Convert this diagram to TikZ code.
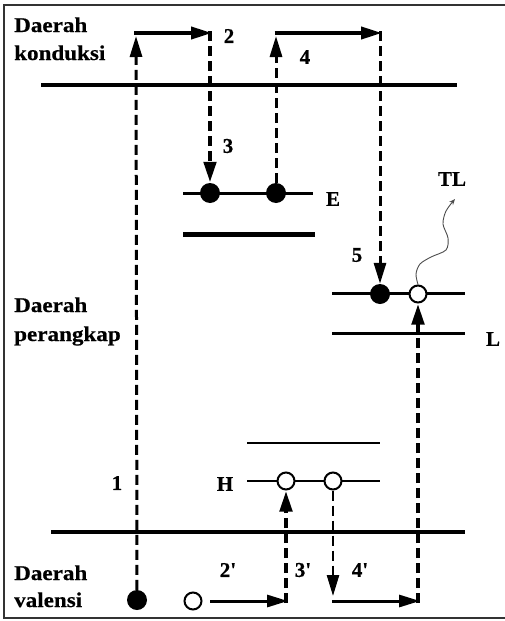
\documentclass[tikz,border=0pt]{standalone}
\usepackage{fontspec}
\setmainfont{Liberation Serif}
\newfontfamily\regfont[FakeStretch=1.1,FakeBold=0.6]{Liberation Serif}
\newfontfamily\lblfont[FakeBold=0.6]{Liberation Serif}
\usetikzlibrary{arrows.meta}
\begin{document}
\begin{tikzpicture}[x=1pt,y=-1pt,
  region/.style={font=\regfont\fontsize{21}{28}\selectfont\bfseries, inner sep=0pt, anchor=base west},
  lbl/.style={font=\lblfont\fontsize{21}{24}\selectfont\bfseries, inner sep=0pt},
  band/.style={line width=4.5pt},
  level/.style={line width=3pt},
  dl/.style={dash pattern=on 10pt off 5pt, line width=3pt},
  dlw/.style={dash pattern=on 10pt off 5pt, line width=4.5pt},
  sl/.style={line width=4pt},
  arrowtip/.style={-{Triangle[length=21pt,width=12pt]}},
  elec/.style={circle, fill=black, minimum size=20pt, inner sep=0pt},
  hole/.style={circle, draw=black, fill=white, line width=2pt, minimum size=17pt, inner sep=0pt}
]
\useasboundingbox (0,0) rectangle (504,621);
\draw[line width=1.5pt, black!80] (4,5) rectangle (512,618);

% region labels
\node[region] (k1) at (14,32) {Daerah};
\node[region] (k2) at (14,60) {konduksi};
\node[region] (p1) at (14,312) {Daerah};
\node[region] (p2) at (14,341) {perangkap};
\node[region] (v1) at (14,580) {Daerah};
\node[region] (v2) at (14,607) {valensi};

% bands and levels
\draw[band] (41,85) -- (457,85);
\draw[band] (51,532) -- (465,532);
\draw[level] (183,193) -- (313,193);
\draw[line width=5pt] (183,234) -- (315,234);
\draw[level] (332,293) -- (465,293);
\draw[level] (332,333) -- (465,333);
\draw[line width=2.5pt] (247,443) -- (380,443);
\draw[line width=2.5pt] (247,481) -- (380,481);

% labels
\node[lbl] (l2) at (229,36) {2};
\node[lbl] (l3) at (228,146) {3};
\node[lbl] (l4) at (305,57) {4};
\node[lbl] (lE) at (333,199) {E};
\node[lbl] (lTL) at (452,179) {TL};
\node[lbl] (l5) at (357,255) {5};
\node[lbl] (lL) at (493,339) {L};
\node[lbl] (l1) at (117,483) {1};
\node[lbl] (lH) at (225,484) {H};
\node[lbl] (l2p) at (228,570) {2'};
\node[lbl] (l3p) at (303,570) {3'};
\node[lbl] (l4p) at (360,570) {4'};

% particles
\node[elec] (ve) at (137,600) {};
\node[hole] (vh) at (193,601) {};
\node[elec] (e1) at (210,193) {};
\node[elec] (e2) at (276,193) {};
\node[elec] (t1) at (380,294) {};
\node[hole] (t2) at (418,294) {};
\node[hole] (h1) at (286,481) {};
\node[hole] (h2) at (333,481) {};

% corner coordinates
\coordinate (c1) at (136,36);
\coordinate (c1a) at (134,33);
\coordinate (c2) at (212,33);
\coordinate (c2b) at (210,31);
\coordinate (c4) at (276,36);
\coordinate (c4a) at (274.5,33);
\coordinate (c5) at (382,33);
\coordinate (c5b) at (380,31);
\coordinate (c6) at (210,601);
\coordinate (c7) at (288,601);
\coordinate (c7b) at (286,603);
\coordinate (c8) at (333,596);
\coordinate (c8b) at (332,601);
\coordinate (c9) at (420,601);
\coordinate (c9b) at (418,603);
\coordinate (tlend) at (455,199);

% transitions
\draw[dl,arrowtip] (ve) -- (c1);
\draw[sl,arrowtip] (c1a) -- (c2);
\draw[dlw,arrowtip] (c2b) -- (e1);
\draw[dl,arrowtip] (e2) -- (c4);
\draw[sl,arrowtip] (c4a) -- (c5);
\draw[dl,arrowtip] (c5b) -- (t1);

\draw[line width=3pt,arrowtip] (c6) -- (c7);
\draw[dlw,arrowtip] (c7b) -- (h1);
\draw[line width=2.5pt,dash pattern=on 10pt off 5pt,arrowtip] (h2) -- (c8);
\draw[line width=3pt,arrowtip] (c8b) -- (c9);
\draw[dlw,arrowtip] (c9b) -- (t2);

% luminescence
\draw[black!70, line width=0.9pt, -{Stealth[length=6pt,width=5pt,open]}]
  plot[smooth] coordinates {(t2.north) (416,274) (420,264) (431,257) (446,250) (448,238) (443,224) (446,211) (tlend)};
\end{tikzpicture}
\end{document}
